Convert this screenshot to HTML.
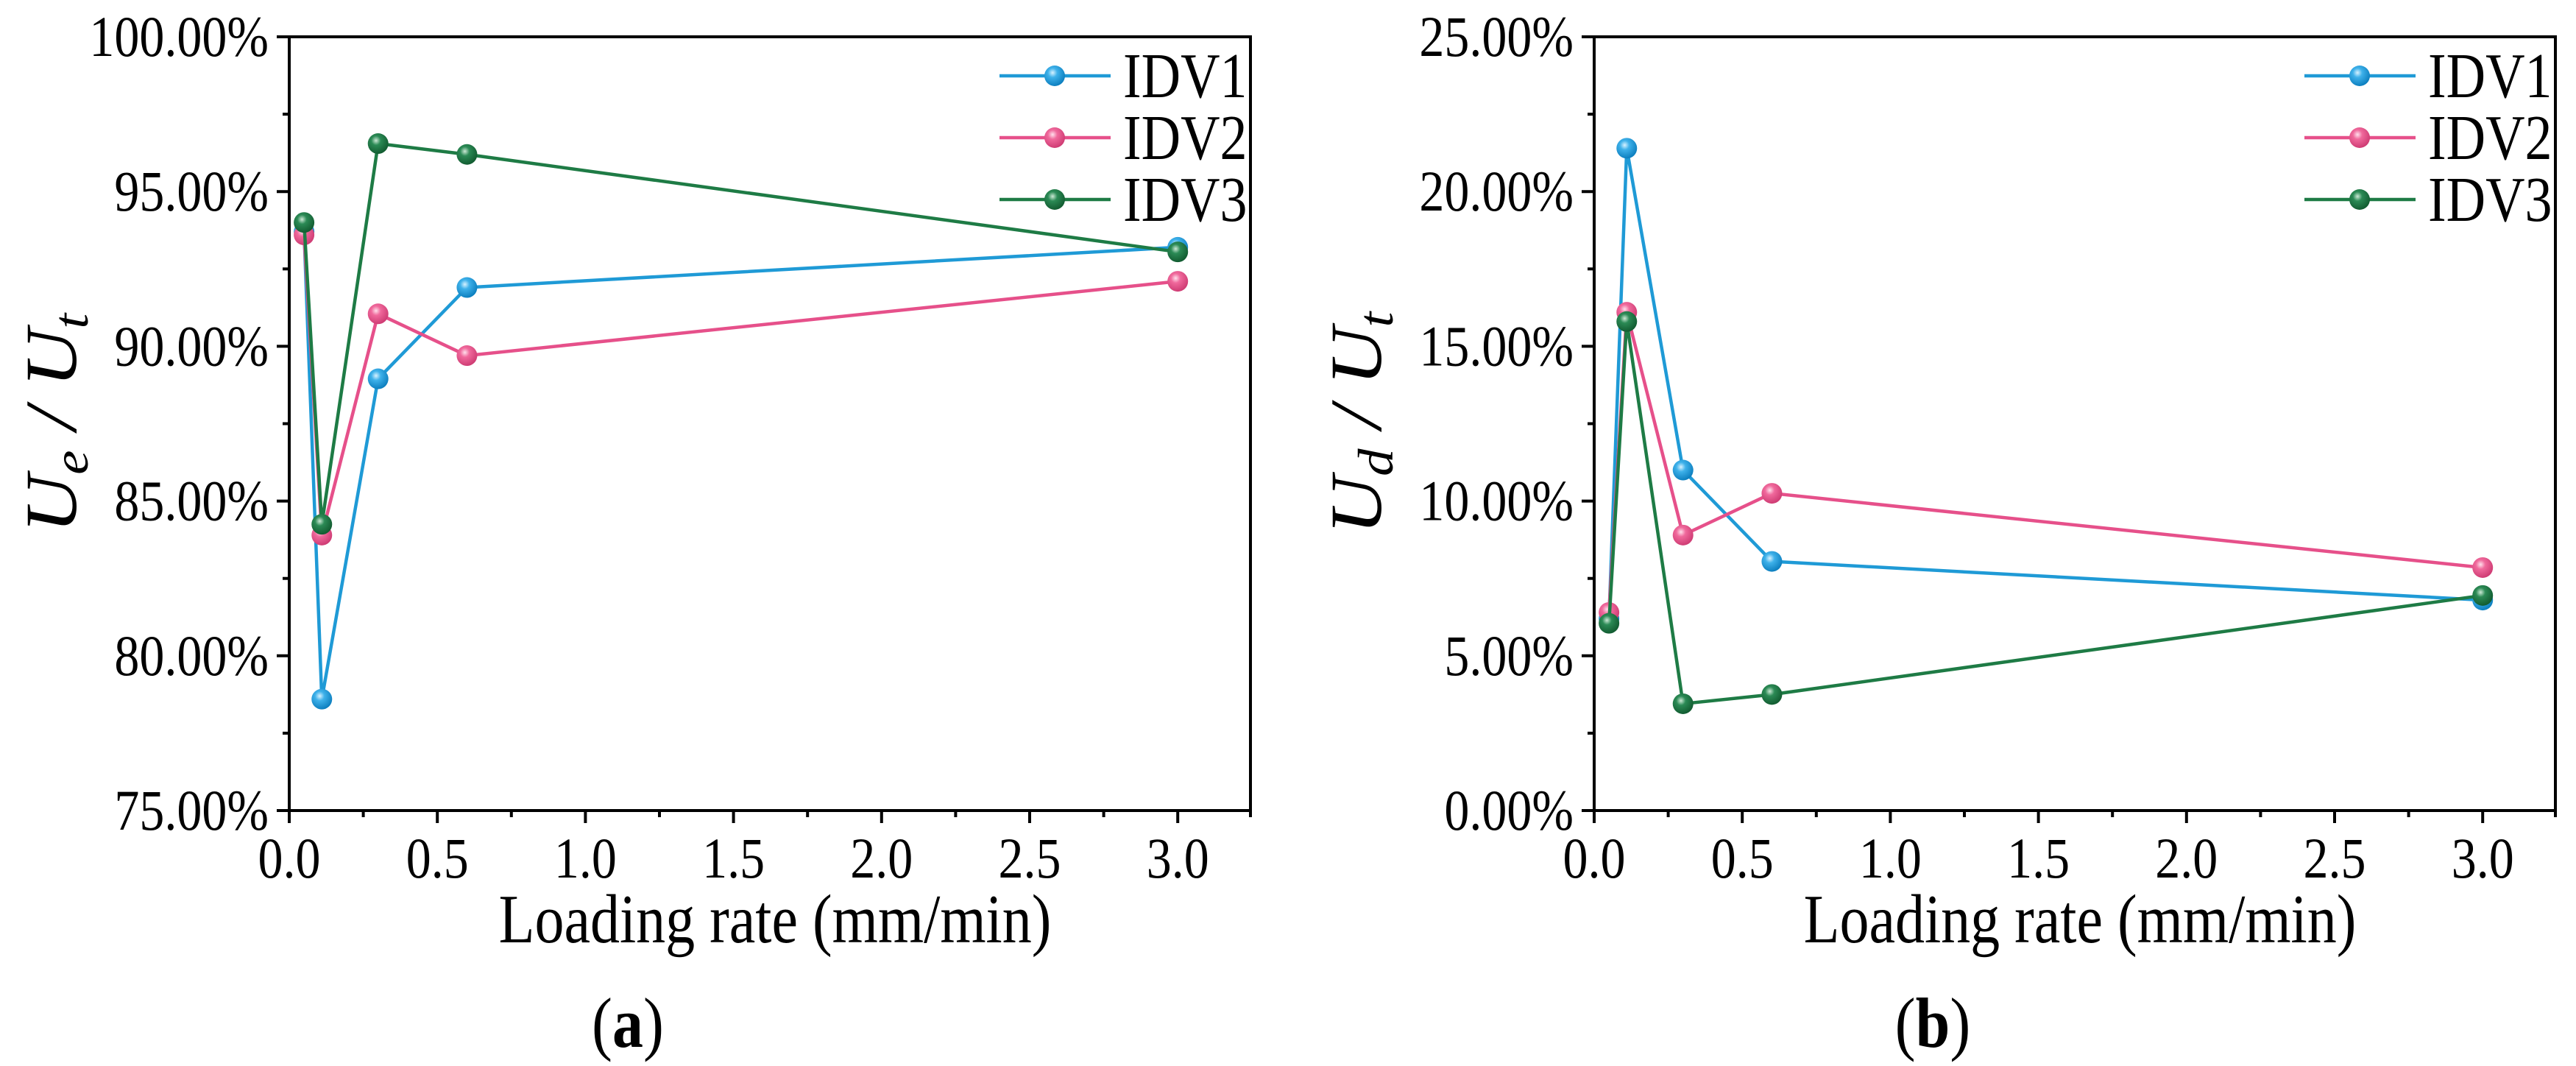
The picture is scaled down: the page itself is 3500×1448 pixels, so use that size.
<!DOCTYPE html>
<html><head><meta charset="utf-8"><style>
html,body{margin:0;padding:0;background:#fff;}
svg{display:block;font-family:"Liberation Serif",serif;}
</style></head><body>
<svg id="fig" width="3500" height="1448" viewBox="0 0 3500 1448">
<defs>
<radialGradient id="g-blue" cx="40%" cy="35%" r="65%"><stop offset="0" stop-color="#d8f2ff"/><stop offset="0.35" stop-color="#3eb1ea"/><stop offset="1" stop-color="#0d7fbf"/></radialGradient>
<radialGradient id="g-pink" cx="40%" cy="35%" r="65%"><stop offset="0" stop-color="#ffe0ec"/><stop offset="0.35" stop-color="#f0699c"/><stop offset="1" stop-color="#cf3c74"/></radialGradient>
<radialGradient id="g-green" cx="40%" cy="35%" r="65%"><stop offset="0" stop-color="#cde9d6"/><stop offset="0.35" stop-color="#2b8a55"/><stop offset="1" stop-color="#125c31"/></radialGradient>
</defs>
</svg>
<script>
const xValues = [0.05, 0.11, 0.3, 0.6, 3.0];
const seriesNames = ['IDV1', 'IDV2', 'IDV3'];
const aIDV1 = [93.7, 78.6, 88.95, 91.9, 93.2];
const aIDV2 = [93.6, 83.9, 91.05, 89.7, 92.1];
const aIDV3 = [94.0, 84.25, 96.55, 96.2, 93.05];
const bIDV1 = [6.2, 21.4, 11.0, 8.05, 6.8];
const bIDV2 = [6.4, 16.1, 8.9, 10.25, 7.85];
const bIDV3 = [6.05, 15.8, 3.45, 3.75, 6.95];
const xTicks = [0.0, 0.5, 1.0, 1.5, 2.0, 2.5, 3.0];
const aYTicks = [75, 80, 85, 90, 95, 100];
const bYTicks = [0, 5, 10, 15, 20, 25];

const NS = 'http://www.w3.org/2000/svg';
const svg = document.getElementById('fig');
const colors = ['#1f9ad6', '#e6508a', '#1e7b45'];
const grads = ['url(#g-blue)', 'url(#g-pink)', 'url(#g-green)'];
function mk(tag, attrs, parent) {
  const e = document.createElementNS(NS, tag);
  for (const k in attrs) e.setAttribute(k, attrs[k]);
  (parent || svg).appendChild(e);
  return e;
}
// text stretched vertically like reference
function txt(parent, x, y, size, anchor, sy) {
  return mk('text', {x: 0, y: 0, 'font-size': size, 'text-anchor': anchor, transform: `translate(${x},${y}) scale(1,${sy || 1.15})`}, parent);
}
function panel(cfg) {
  const g = mk('g', {});
  
  
  const L = cfg.left, R = cfg.left + 1306, T = 50, B = 1101;
  const xs = v => L + v / 0.5 * 201.2;
  const ys = v => B - (v - cfg.ymin) / (cfg.ymax - cfg.ymin) * (B - T);
  const box = mk('path', {d: `M${L},${T} H${R} V${B} H${L} Z`, fill: 'none', stroke: '#000', 'stroke-width': 4}, g);
  
  
  xTicks.forEach((t, i) => {
    const x = xs(t);
    const tk = mk('line', {x1: x, x2: x, y1: B, y2: B + 17, stroke: '#000', 'stroke-width': 4}, g);
    
    
    const mx = xs(t + 0.25);
    if (mx < R) mk('line', {x1: mx, x2: mx, y1: B, y2: B + 9, stroke: '#000', 'stroke-width': 4}, g);
    const lb = txt(g, x, 1192, 68, 'middle');
    lb.textContent = t.toFixed(1);
    
    
  });
  mk('line', {x1: R, x2: R, y1: B, y2: B + 9, stroke: '#000', 'stroke-width': 4}, g);
  cfg.yTicks.forEach((t, i) => {
    const y = ys(t);
    const tk = mk('line', {x1: L - 17, x2: L, y1: y, y2: y, stroke: '#000', 'stroke-width': 4}, g);
    
    
    if (i < cfg.yTicks.length - 1) {
      const my = ys(t + 2.5);
      mk('line', {x1: L - 9, x2: L, y1: my, y2: my, stroke: '#000', 'stroke-width': 4}, g);
    }
    const lb = txt(g, L - 28, y + 26, 68, 'end');
    lb.textContent = t.toFixed(2) + '%';
    
    
  });
  const xt = txt(g, L + 660, 1280, 80, 'middle', 1.18);
  xt.textContent = 'Loading rate (mm/min)';
  
  
  const yt = mk('text', {x: 0, y: 0, 'font-size': 100, 'font-style': 'italic', 'text-anchor': 'middle', transform: `translate(${L - 290},575) rotate(-90) scale(1.1,1)`}, g);
  yt.innerHTML = 'U<tspan font-size="68" dy="16">' + cfg.sub + '</tspan><tspan dy="-16"> / U</tspan><tspan font-size="68" dy="16">t</tspan>';
  
  
  const cap = txt(g, L + 460, 1422, 84, 'middle', 1.15);
  cap.innerHTML = '(<tspan font-weight="bold">' + cfg.letter + '</tspan>)';
  
  
  cfg.series.forEach((vals, si) => {
    const sg = mk('g', {}, g);
    
    
    const pts = vals.map((v, i) => xs(xValues[i]) + ',' + ys(v)).join(' ');
    const pl = mk('polyline', {points: pts, fill: 'none', stroke: colors[si], 'stroke-width': 4.5}, sg);
    
    
    vals.forEach((v, i) => {
      const c = mk('circle', {cx: xs(xValues[i]), cy: ys(v), r: 14, fill: grads[si]}, sg);
      
      
    });
  });
  const lg = mk('g', {}, g);
  
  
  seriesNames.forEach((n, si) => {
    const y = 103 + si * 84;
    const le = mk('g', {}, lg);
    
    
    mk('line', {x1: L + 965, x2: L + 1116, y1: y, y2: y, stroke: colors[si], 'stroke-width': 4.5}, le);
    mk('circle', {cx: L + 1040, cy: y, r: 14, fill: grads[si]}, le);
    const t = txt(le, L + 1133, y + 29, 74, 'start', 1.18);
    t.textContent = n;
  });
}
panel({name: 'panel-a', left: 393, ymin: 75, ymax: 100, yTicks: aYTicks, series: [aIDV1, aIDV2, aIDV3], sub: 'e', letter: 'a'});
panel({name: 'panel-b', left: 2166, ymin: 0, ymax: 25, yTicks: bYTicks, series: [bIDV1, bIDV2, bIDV3], sub: 'd', letter: 'b'});
</script>
</body></html>
